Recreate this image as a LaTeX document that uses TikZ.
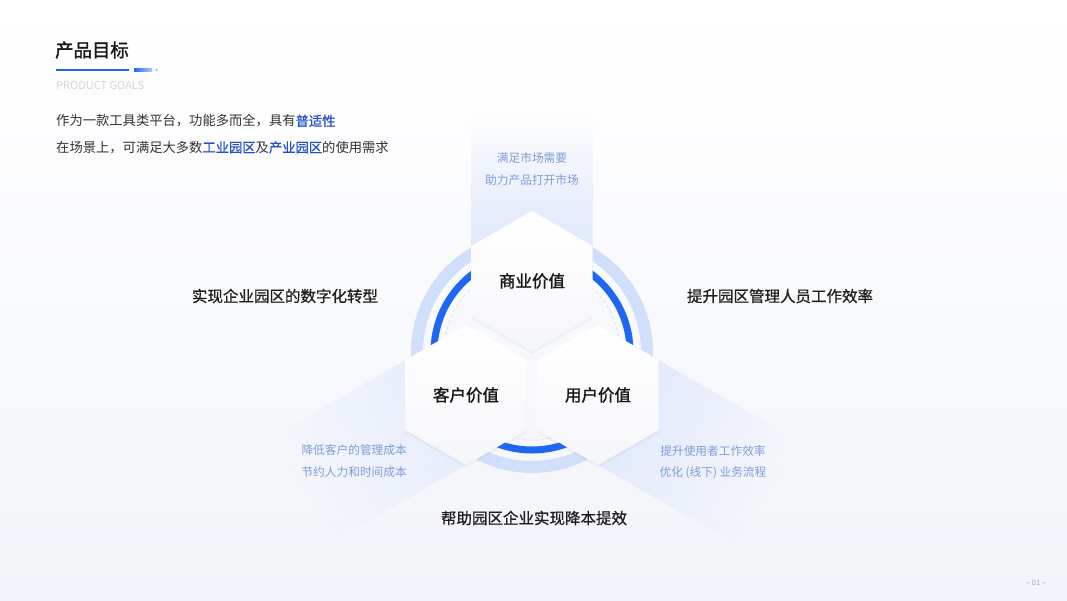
\documentclass[tikz,border=0pt]{standalone}
\usepackage{fontspec}
\setmainfont{Noto Sans CJK SC}
\newfontfamily\medfont[FakeBold=0.8]{Noto Sans CJK SC}
\newfontfamily\semifont[FakeBold=1.6]{Noto Sans CJK SC}
\usepackage{tikz}
\usetikzlibrary{shapes.geometric,shadows,fadings}
\usepackage{xcolor}

\definecolor{mainblue}{HTML}{1F66F2}
\definecolor{keyblue}{HTML}{2350C8}
\definecolor{ringlight}{HTML}{D2DFFB}
\definecolor{beamblue}{HTML}{DAE4FB}
\definecolor{noteblue}{HTML}{7F9DDB}
\definecolor{textdark}{HTML}{333333}
\definecolor{enggray}{HTML}{D3D7DF}
\definecolor{bgbottom}{HTML}{F2F4F9}
\definecolor{hexbottom}{HTML}{F5F6F9}

\tikzset{
  hexa/.style={regular polygon, regular polygon sides=6, shape border rotate=30,
    minimum size=140pt, inner sep=0pt, top color=white, bottom color=hexbottom,
    drop shadow={shadow xshift=0pt, shadow yshift=-3pt, opacity=0.06},
    text=black!90, font=\semifont\fontsize{16.5}{20}\selectfont},
  note/.style={inner sep=0pt, text=noteblue, font=\fontsize{11.7}{14}\selectfont},
  aim/.style={inner sep=0pt, text=black!88, font=\medfont\fontsize{15.5}{18}\selectfont},
  body/.style={inner sep=0pt, anchor=west, text=textdark, font=\fontsize{13.3}{16}\selectfont},
  key/.style={}
}
\newcommand{\keyword}[1]{{\medfont\color{keyblue}#1}}

\begin{document}
\begin{tikzpicture}[x=1pt,y=-1pt]
\useasboundingbox (0,0) rectangle (1067,600);
\shade[top color=white, bottom color=bgbottom] (0,0) rectangle (1067,600);
% light beams behind the hexagons
\foreach \x/\y/\a/\l/\c in {532/281/90/165/100,466/395/210/185/75,598/395/-30/195/90}{
\begin{scope}[transform canvas={shift={(\x,\y)},rotate=\a}]
    \fill[beamblue!\c!white, path fading=east] (0,-60.5) rectangle (\l,60.5);
\end{scope}}
% rings
\coordinate (ctr) at (532,352);
\draw[ringlight, line width=12pt] (ctr) circle (115);
\draw[mainblue, line width=7pt] (ctr) circle (98);
\draw[ringlight, line width=0.8pt, dash pattern=on 3pt off 3pt] (ctr) circle (88);
% hexagons
\node[hexa] (biz) at (532,281) {商业价值};
\node[hexa] (cust) at (466,395) {客户价值};
\node[hexa] (user) at (598,395) {用户价值};
% heading
\node[anchor=west, inner sep=0pt, text=black!90, font=\semifont\fontsize{18.4}{22}\selectfont] (title) at (55,50) {产品目标};
\draw[mainblue, line width=2.2pt] (56,70) -- (129,70);
\shade[left color=mainblue, right color=mainblue!35] (134,68.9) rectangle (152,71.1);
\fill[mainblue!60] (156.5,70) circle (1.1);
\node[anchor=west, inner sep=0pt, text=enggray, font=\fontsize{11}{13}\selectfont] (goals) at (56,85) {PRODUCT GOALS};
\node[body] (line1) at (56,121) {作为一款工具类平台，功能多而全，具有\keyword{普适性}};
\node[body] (line2) at (56,147.5) {在场景上，可满足大多数\keyword{工业园区}及\keyword{产业园区}的使用需求};
% notes
\node[note] (bizA) at (532,158) {满足市场需要};
\node[note] (bizB) at (532,180) {助力产品打开市场};
\node[note, anchor=east] (custA) at (407,450) {降低客户的管理成本};
\node[note, anchor=east] (custB) at (407,472) {节约人力和时间成本};
\node[note] (userA) at (713,451) {提升使用者工作效率};
\node[note] (userB) at (713,473) {优化 (线下) 业务流程};
\node[aim] (aimL) at (285,296) {实现企业园区的数字化转型};
\node[aim] (aimR) at (780,296) {提升园区管理人员工作效率};
\node[aim] (aimB) at (534,518) {帮助园区企业实现降本提效};
\node[inner sep=0pt, text=black!35, font=\fontsize{7.5}{9}\selectfont] (page) at (1036,583) {– 01 –};
\end{tikzpicture}
\end{document}
